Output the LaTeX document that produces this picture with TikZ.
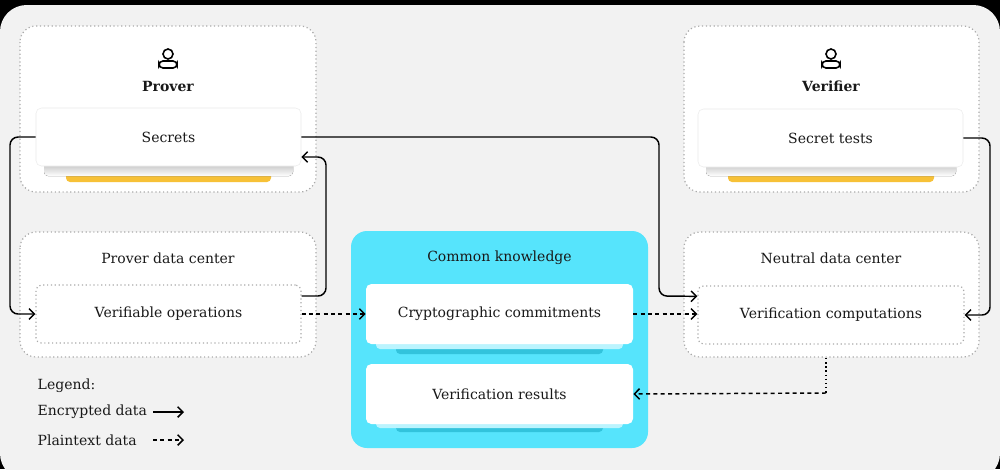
\documentclass[tikz,border=0pt]{standalone}
\usepackage{fontspec}
\setmainfont{DejaVu Serif}
\usetikzlibrary{arrows.meta}
\definecolor{panel}{HTML}{F2F2F2}
\definecolor{dotg}{HTML}{AAAAAA}
\definecolor{shade}{HTML}{EBEBEB}
\definecolor{yel}{HTML}{F7C137}
\definecolor{cyanb}{HTML}{56E4FC}
\definecolor{cyand}{HTML}{32C3DC}
\tikzset{
  px/.style={x=0.75pt,y=-0.75pt},
  group/.style={draw=dotg,dotted,line width=0.9pt,fill=white,rounded corners=12},
  inner/.style={draw=dotg,dotted,line width=0.9pt,fill=white,rounded corners=4},
  card/.style={draw=shade,fill=white,rounded corners=4},
  lbl/.style={font=\fontsize{10.5}{12}\selectfont,text=black!90},
  icon/.style={line width=1.2pt},
  enc/.style={line width=1.1pt,-{Straight Barb[length=4pt,width=8pt]},rounded corners=6},
  pla/.style={line width=1.1pt,dash pattern=on 3pt off 2.5pt,-{Straight Barb[length=4pt,width=8pt]},rounded corners=6}
}
\begin{document}
\begin{tikzpicture}[px]
\useasboundingbox (0,0) rectangle (1000,469);
\fill[black] (0,0) rectangle (1000,469);
\fill[panel,rounded corners=20] (0,5) rectangle (1000,480);
% Prover
\draw[group] (20,26) rectangle (316,192);
\draw[icon,rounded corners=3] (159,68) -- (159,61) -- (177,61) -- (177,68) -- cycle;
\draw[icon] (168,54) circle[radius=5];
\node[lbl,font=\fontsize{10.5}{12}\selectfont\bfseries] (prover) at (168,86) {Prover};
\fill[yel,rounded corners=3] (66,170) rectangle (271,182);
\fill[shade,rounded corners=3] (44,150) rectangle (293,176);
\node[card,minimum width=265*0.75pt,minimum height=58*0.75pt,lbl] (secrets) at (168.5,137) {Secrets};
% Verifier
\draw[group] (684,26) rectangle (979,192);
\draw[icon,rounded corners=3] (822,68) -- (822,61) -- (840,61) -- (840,68) -- cycle;
\draw[icon] (831,54) circle[radius=5];
\node[lbl,font=\fontsize{10.5}{12}\selectfont\bfseries] (verifier) at (831,86) {Verifier};
\fill[yel,rounded corners=3] (728,170) rectangle (934,182);
\fill[shade,rounded corners=3] (706,150) rectangle (956,176);
\node[card,minimum width=265*0.75pt,minimum height=58*0.75pt,lbl] (tests) at (830.5,138) {Secret tests};
% Prover data center
\draw[group] (20,232) rectangle (316,357);
\node[lbl] (pdc) at (168,258) {Prover data center};
\node[inner,minimum width=265*0.75pt,minimum height=58*0.75pt,lbl] (ops) at (168.5,314) {Verifiable operations};
% Neutral data center
\draw[group] (684,232) rectangle (979,357);
\node[lbl] (ndc) at (831,258) {Neutral data center};
\node[inner,minimum width=266*0.75pt,minimum height=58*0.75pt,lbl] (comp) at (831,315) {Verification computations};
\coordinate (ndcb) at (826,358);
% Common knowledge
\fill[cyanb,rounded corners=12] (351,231) rectangle (648,448);
\node[lbl] (ck) at (499.5,258) {Common knowledge};
\fill[cyand,rounded corners=3] (396,330) rectangle (603,354);
\fill[cyanb!40!white,rounded corners=3] (376,330) rectangle (623,349);
\fill[cyand,rounded corners=3] (396,410) rectangle (603,432);
\fill[cyanb!40!white,rounded corners=3] (376,410) rectangle (623,428);
\node[fill=white,rounded corners=4,minimum width=267*0.75pt,minimum height=60*0.75pt,lbl] (commit) at (499.5,314) {Cryptographic commitments};
\node[fill=white,rounded corners=4,minimum width=267*0.75pt,minimum height=60*0.75pt,lbl] (results) at (499.5,394) {Verification results};
% connectors
\draw[enc] (secrets.west) -- (10,137) -- (10,314) -- (ops.west);
\draw[enc] ([yshift=13.5pt]ops.east) -| (326,157) -- ([yshift=-15pt]secrets.east);
\draw[enc] (secrets.east) -- (659,137) -- (659,296) -- ([yshift=14pt]comp.west);
\draw[enc] (tests.east) -- (990,138) -- (990,315) -- (comp.east);
\draw[pla] (ops.east) -- (commit.west);
\draw[pla] (commit.east) -- ([yshift=0.75pt]comp.west);
\draw[line width=1.1pt,dotted] (ndcb) -- (826,393);
\draw[pla] (826,393) -- (results.east);
% legend
\node[lbl,anchor=west] (leg) at (33,386) {Legend:};
\node[lbl,anchor=west] (le) at (33,412) {Encrypted data};
\node[lbl,anchor=west] (lp) at (33,440) {Plaintext data};
\coordinate (e1) at (153,412); \coordinate (e2) at (184,412);
\coordinate (p1) at (153,440); \coordinate (p2) at (184,440);
\draw[enc] (e1) -- (e2);
\draw[pla] (p1) -- (p2);
\end{tikzpicture}
\end{document}
